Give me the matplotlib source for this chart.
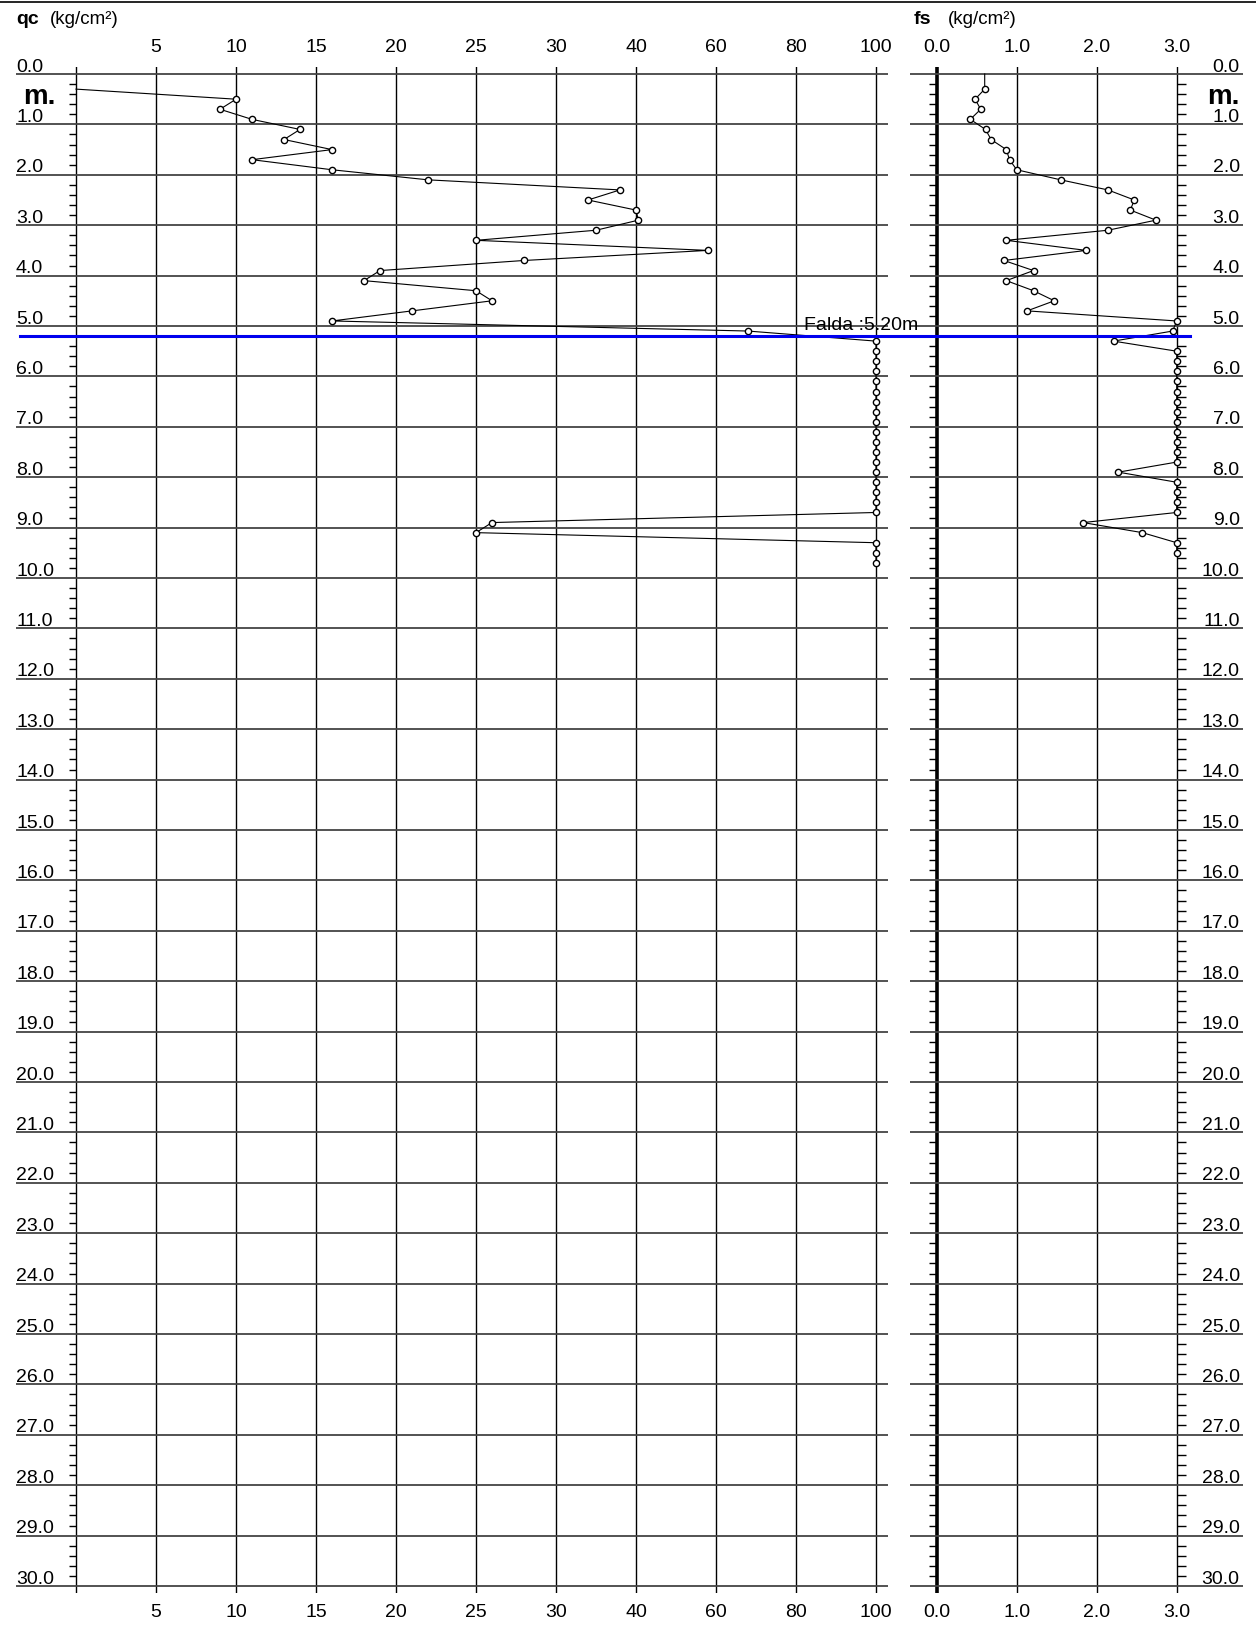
import numpy as np
import matplotlib
matplotlib.use("Agg")
import matplotlib.pyplot as plt
from matplotlib.lines import Line2D

plt.rcParams['font.family'] = ['Liberation Sans', 'DejaVu Sans']

# qc readings (kg/cm2) vs depth (m)
qc_depth = [0.3, 0.5, 0.7, 0.9, 1.1, 1.3, 1.5, 1.7, 1.9, 2.1, 2.3, 2.5, 2.7, 2.9,
            3.1, 3.3, 3.5, 3.7, 3.9, 4.1, 4.3, 4.5, 4.7, 4.9, 5.1, 5.3, 5.5, 5.7,
            5.9, 6.1, 6.3, 6.5, 6.7, 6.9, 7.1, 7.3, 7.5, 7.7, 7.9, 8.1, 8.3, 8.5,
            8.7, 8.9, 9.1, 9.3, 9.5, 9.7]
qc_vals = [0, 10, 9, 11, 14, 13, 16, 11, 16, 22, 38, 34, 40, 40.6,
           35, 25, 58, 28, 19, 18, 25, 26, 21, 16, 68, 100, 100, 100,
           100, 100, 100, 100, 100, 100, 100, 100, 100, 100, 100, 100, 100, 100,
           100, 26, 25, 100, 100, 100]

# fs readings (kg/cm2) vs depth (m)
fs_depth = [0.0, 0.3, 0.5, 0.7, 0.9, 1.1, 1.3, 1.5, 1.7, 1.9, 2.1, 2.3, 2.5, 2.7, 2.9,
            3.1, 3.3, 3.5, 3.7, 3.9, 4.1, 4.3, 4.5, 4.7, 4.9, 5.1, 5.3, 5.5, 5.7,
            5.9, 6.1, 6.3, 6.5, 6.7, 6.9, 7.1, 7.3, 7.5, 7.7, 7.9, 8.1, 8.3, 8.5,
            8.7, 8.9, 9.1, 9.3, 9.5]
fs_vals = [0.6, 0.6, 0.48, 0.55, 0.42, 0.61, 0.68, 0.87, 0.91, 1.0, 1.55, 2.14, 2.47, 2.42, 2.74,
           2.14, 0.87, 1.87, 0.84, 1.21, 0.87, 1.21, 1.47, 1.13, 3.0, 2.95, 2.21, 3.0, 3.0,
           3.0, 3.0, 3.0, 3.0, 3.0, 3.0, 3.0, 3.0, 3.0, 3.0, 2.27, 3.0, 3.0, 3.0,
           3.0, 1.83, 2.57, 3.0, 3.0]

qc_ticks = [0, 5, 10, 15, 20, 25, 30, 40, 60, 80, 100]
fs_ticks = [0.0, 1.0, 2.0, 3.0]
water_depth = 5.2

W, H = 1256, 1625
PXM = 50.4          # pixels per metre
Y0 = 74             # pixel row of depth 0
TOP, BOT = 67, 1593

idx = np.arange(len(qc_ticks), dtype=float)


def qc_fwd(x):
    x = np.asarray(x, dtype=float)
    out = np.interp(x, qc_ticks, idx)
    out = np.where(x < 0, x / 5.0, out)
    out = np.where(x > 100, 10 + (x - 100) / 20.0, out)
    return out


def qc_inv(u):
    u = np.asarray(u, dtype=float)
    out = np.interp(u, idx, qc_ticks)
    out = np.where(u < 0, u * 5.0, out)
    out = np.where(u > 10, 100 + (u - 10) * 20.0, out)
    return out


def add_axes(x0, x1):
    return fig.add_axes([x0 / W, 1 - BOT / H, (x1 - x0) / W, (BOT - TOP) / H])


fig = plt.figure(figsize=(W / 100, H / 100), dpi=100)
ylim = ((BOT - Y0) / PXM, (TOP - Y0) / PXM)
FS = 14
GRID = '#444444'

# ---------------- qc panel
ax = add_axes(16, 888)
ax.set_xscale('function', functions=(qc_fwd, qc_inv))
ax.set_xlim(qc_inv(-60 / 80), qc_inv((888 - 76) / 80))
ax.set_ylim(*ylim)
ax.set_xticks(qc_ticks[1:])
ax.set_xticklabels([str(t) for t in qc_ticks[1:]])
ax.set_yticks([])
for s in ax.spines.values():
    s.set_visible(False)
ax.tick_params(axis='x', length=0, labeltop=True, labelbottom=True, labelsize=FS, pad=8)
for t in qc_ticks:
    ax.axvline(t, color='black', lw=1.0)
for d in range(31):
    ax.axhline(d, color=GRID, lw=1.3)
    ax.text(0, d + 0.03, f"{d:.1f}", transform=ax.get_yaxis_transform(),
            ha='left', va='bottom', fontsize=FS)
minor = [d / 5 for d in range(151) if d % 5]
ax.hlines(minor, qc_inv(-0.09), 0, color='black', lw=1.0)
ax.text(0.008, 0.45, "m.", transform=ax.get_yaxis_transform(), fontsize=20,
        fontweight='bold', va='center')
ax.plot(qc_vals, qc_depth, color='black', lw=0.8)
ax.plot(qc_vals[1:], qc_depth[1:], 'o', mfc='white', mec='black', ms=4.5, mew=1.0)

# ---------------- fs panel
ax2 = add_axes(910, 1243)
ax2.set_xlim(-26.7 / 80, (1243 - 936.7) / 80)
ax2.set_ylim(*ylim)
ax2.set_xticks(fs_ticks)
ax2.set_xticklabels([f"{t:.1f}" for t in fs_ticks])
ax2.set_yticks([])
for s in ax2.spines.values():
    s.set_visible(False)
ax2.tick_params(axis='x', length=0, labeltop=True, labelbottom=True, labelsize=FS, pad=8)
for t in fs_ticks:
    ax2.axvline(t, color='black', lw=2.6 if t == 0 else 1.0)
for d in range(31):
    ax2.axhline(d, color=GRID, lw=1.3)
    ax2.text(0.99, d + 0.03, f"{d:.1f}", transform=ax2.get_yaxis_transform(),
             ha='right', va='bottom', fontsize=FS)
ax2.hlines(minor, -0.1, 0, color='black', lw=1.0)
ax2.hlines(minor, 3.0, 3.12, color='black', lw=1.0)
ax2.text(0.99, 0.45, "m.", transform=ax2.get_yaxis_transform(), fontsize=20,
         fontweight='bold', va='center', ha='right')
ax2.plot(fs_vals, fs_depth, color='black', lw=0.8)
ax2.plot(fs_vals[1:], fs_depth[1:], 'o', mfc='white', mec='black', ms=4.5, mew=1.0)

# ---------------- headers and water table
fig.add_artist(Line2D([0, 1], [1 - 2 / H, 1 - 2 / H], color='black', lw=1.2))
fig.text(16 / W, 1 - 20 / H, "qc", fontsize=14, fontweight='bold', va='center')
fig.text(50 / W, 1 - 20 / H, "(kg/cm²)", fontsize=13.5, va='center')
fig.text(914 / W, 1 - 20 / H, "fs", fontsize=14, fontweight='bold', va='center')
fig.text(948 / W, 1 - 20 / H, "(kg/cm²)", fontsize=13.5, va='center')

wy = 1 - (Y0 + water_depth * PXM) / H
fig.add_artist(Line2D([20 / W, 1190 / W], [wy, wy], color='#0000ee', lw=2.2))
fig.text(918 / W, wy + 2 / H, f"Falda :{water_depth:.2f}m", fontsize=FS,
         ha='right', va='bottom')

fig.savefig("out.png", dpi=100)
